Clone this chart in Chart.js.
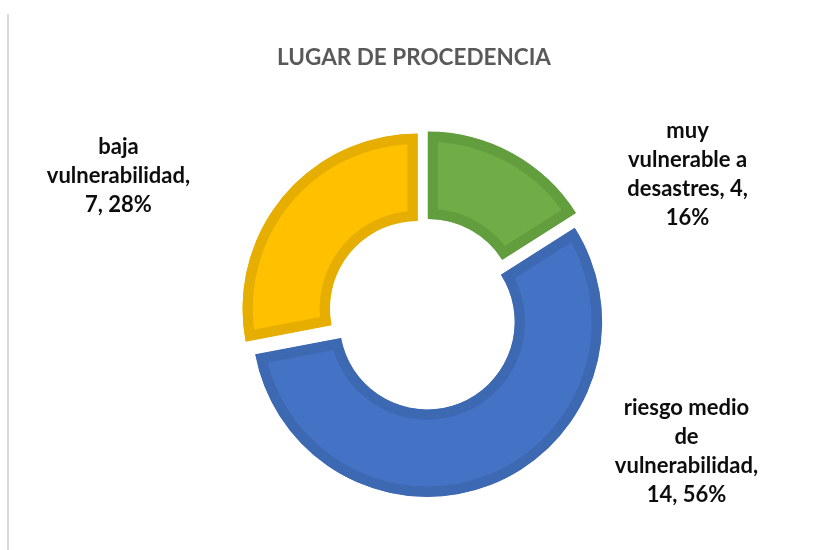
<!DOCTYPE html>
<html>
<head>
<meta charset="utf-8">
<script src="https://cdn.jsdelivr.net/npm/chart.js@4.4.1/dist/chart.umd.min.js"></script>
<style>
  html, body { margin: 0; padding: 0; background: #fff; }
  #wrap { position: relative; width: 830px; height: 550px; }
  #frame { position: absolute; left: 7px; top: 14px; width: 2px; height: 536px; background: #d9d9d9; }
  canvas { position: absolute; left: 0; top: 0; }
</style>
</head>
<body>
<div id="wrap">
  <div id="frame"></div>
  <canvas id="donut" width="830" height="550"></canvas>
</div>
<script>
var chartTitle = 'LUGAR DE PROCEDENCIA';
var categories = ['muy vulnerable a desastres', 'riesgo medio de vulnerabilidad', 'baja vulnerabilidad'];
var counts = [4, 14, 7];
var percents = [16, 56, 28];

var fills = ['#70AD47', '#4472C4', '#FFC000'];
var borders = ['#629D3E', '#3D68B2', '#E5AE00'];

// Excel style "point explosion": every slice pushed out along its mid angle
var EXPLODE = 8.5;
var arcDraw = Chart.ArcElement.prototype.draw;
Chart.ArcElement.prototype.draw = function (ctx) {
  var mid = (this.startAngle + this.endAngle) / 2;
  ctx.save();
  ctx.translate(Math.cos(mid) * EXPLODE, Math.sin(mid) * EXPLODE);
  arcDraw.call(this, ctx);
  ctx.restore();
};

// label block centres, in units of the outer radius from the ring centre
var labelPos = [[1.506, -0.80], [1.50, 0.783], [-1.746, -0.789]];
var LINE_H = 29;
var WRAP_W = 148;

function wrap(ctx, text, maxW) {
  var words = text.split(' ');
  var lines = [];
  var cur = '';
  words.forEach(function (w) {
    var test = cur ? cur + ' ' + w : w;
    if (cur && ctx.measureText(test).width > maxW) {
      lines.push(cur);
      cur = w;
    } else {
      cur = test;
    }
  });
  if (cur) lines.push(cur);
  return lines;
}

var textPlugin = {
  id: 'excelText',
  afterDatasetsDraw: function (chart) {
    var ctx = chart.ctx;
    var arcs = chart.getDatasetMeta(0).data;
    var area = chart.chartArea;
    ctx.save();
    ctx.textAlign = 'center';
    ctx.textBaseline = 'middle';

    // title
    ctx.font = 'bold 22.5px Lato';
    ctx.fillStyle = '#595959';
    ctx.fillText(chartTitle, (area.left + area.right) / 2 - 10, 58);

    // data labels: "category, value, percent"
    ctx.font = 'bold 22px Lato';
    ctx.fillStyle = '#0d0d0d';
    arcs.forEach(function (arc, i) {
      var p = arc.getProps(['x', 'y', 'outerRadius'], true);
      var text = categories[i] + ', ' + counts[i] + ', ' + percents[i] + '%';
      var lines = wrap(ctx, text, WRAP_W);
      var cx = p.x + labelPos[i][0] * p.outerRadius;
      var cy = p.y + labelPos[i][1] * p.outerRadius;
      var top = cy - (lines.length - 1) * LINE_H / 2;
      lines.forEach(function (line, k) {
        ctx.fillText(line, cx, top + k * LINE_H);
      });
    });
    ctx.restore();
  }
};

var ctx = document.getElementById('donut').getContext('2d');
var myChart = new Chart(ctx, {
  type: 'doughnut',
  data: {
    labels: categories,
    datasets: [{
      data: counts,
      backgroundColor: fills,
      borderColor: borders,
      borderWidth: 10,
      borderAlign: 'inner'
    }]
  },
  options: {
    responsive: false,
    animation: false,
    radius: 175,
    cutout: '50%',
    rotation: 0,
    layout: { padding: { left: 244, right: 226, top: 134, bottom: 56 } },
    plugins: {
      legend: { display: false },
      tooltip: { enabled: false },
      title: { display: false }
    }
  },
  plugins: [textPlugin]
});
</script>
</body>
</html>
